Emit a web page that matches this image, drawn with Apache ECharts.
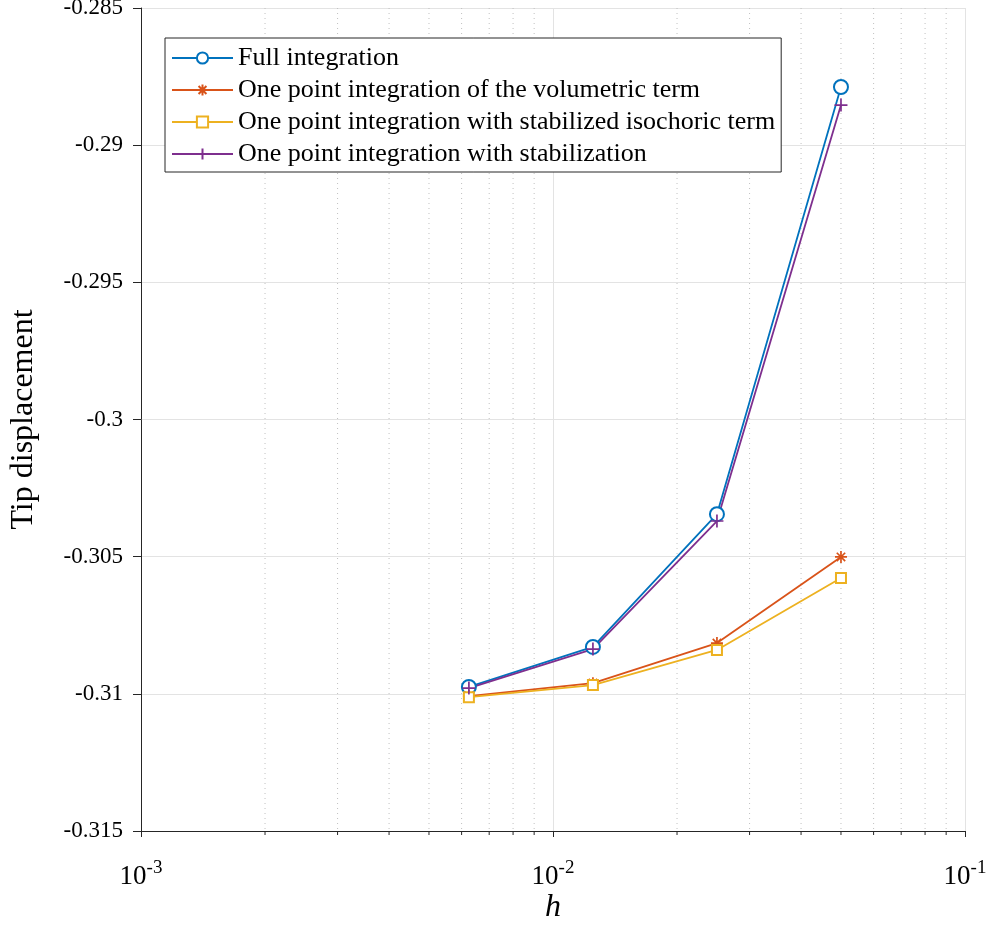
<!DOCTYPE html>
<html>
<head>
<meta charset="utf-8">
<script src="https://cdn.jsdelivr.net/npm/echarts@6/dist/echarts.min.js"></script>
<style>
	html, body { margin: 0; padding: 0; background: #fff; }
	#main { width: 992px; height: 926px; }
</style>
</head>
<body>
<div id="main"></div>
<script>
// mesh size h and tip displacement per method
const hValues = [0.00625, 0.0125, 0.025, 0.05]
const fullIntegration = [-0.30975, -0.30829, -0.30345, -0.28788]
const onePointVolumetric = [-0.31008, -0.30961, -0.30815, -0.30501]
const onePointIsochoric = [-0.31012, -0.30968, -0.3084, -0.30578]
const onePointStabilization = [-0.30979, -0.30837, -0.3037, -0.28854]

const seriesNames = [
	'Full integration',
	'One point integration of the volumetric term',
	'One point integration with stabilized isochoric term',
	'One point integration with stabilization',
]
// minor log ticks (2..9 per decade)
const minorTicksX = [0.002, 0.003, 0.004, 0.005, 0.006, 0.007, 0.008, 0.009,
	0.02, 0.03, 0.04, 0.05, 0.06, 0.07, 0.08, 0.09]

const yMin = -0.315, yMax = -0.285
const font = 'Liberation Serif'
const axisColor = '#262626'

const toPairs = arr => hValues.map((h, i) => [h, arr[i]])

function lineSeries(name, values, color, symbol, size) {
	return {
		name,
		type: 'line',
		data: toPairs(values),
		symbol,
		symbolSize: size,
		showSymbol: true,
		lineStyle: { color, width: 1.8 },
		itemStyle: { color, borderColor: color, borderWidth: 1.7 },
		emphasis: { disabled: true },
		z: 5,
	}
}

const chart = echarts.init(document.getElementById('main'))

const option = {
	animation: false,
	backgroundColor: '#fff',
	textStyle: { fontFamily: font },
	grid: { left: 141, right: 27, top: 8, bottom: 95, containLabel: false, outerBoundsMode: 'none' },
	legend: {
		orient: 'vertical',
		left: 165,
		top: 38,
		data: seriesNames,
		backgroundColor: '#fff',
		borderColor: axisColor,
		borderWidth: 1,
		borderRadius: 0,
		padding: [7, 6, 5, 6],
		itemWidth: 61,
		itemHeight: 14,
		itemGap: 6,
		selectedMode: false,
		textStyle: { fontFamily: font, fontSize: 26, color: '#000', lineHeight: 26 },
	},
	xAxis: {
		type: 'log',
		logBase: 10,
		min: 0.001,
		max: 0.1,
		name: 'h',
		nameLocation: 'middle',
		nameGap: 61,
		nameMoveOverlap: false,
		nameTextStyle: { fontFamily: font, fontSize: 32, fontStyle: 'italic', color: '#000' },
		axisLine: { show: true, onZero: false, lineStyle: { color: axisColor, width: 1 } },
		axisTick: { show: true, inside: false, length: 6, lineStyle: { color: axisColor } },
		axisLabel: {
			margin: 28,
			formatter: v => '{b|10}{s|' + Math.round(Math.log10(v)) + '}',
			rich: {
				b: { fontFamily: font, fontSize: 27, color: '#000' },
				s: { fontFamily: font, fontSize: 19, color: '#000', padding: [0, 0, 17, 0] },
			},
		},
		splitLine: { show: true, lineStyle: { color: '#e3e3e3', width: 1 } },
		minorTick: { show: false },
	},
	yAxis: {
		type: 'value',
		min: yMin,
		max: yMax,
		interval: 0.005,
		name: 'Tip displacement',
		nameLocation: 'middle',
		nameGap: 101,
		nameTextStyle: { fontFamily: font, fontSize: 32, color: '#000' },
		axisLine: { show: true, onZero: false, lineStyle: { color: axisColor, width: 1 } },
		axisTick: { show: true, inside: false, length: 8, lineStyle: { color: axisColor } },
		axisLabel: {
			margin: 18,
			fontFamily: font,
			fontSize: 23,
			color: '#000',
			formatter: v => String(parseFloat(v.toFixed(3))),
		},
		splitLine: { show: true, lineStyle: { color: '#e3e3e3', width: 1 } },
	},
	series: [
		{
			name: 'minor-grid',
			type: 'custom',
			silent: true,
			clip: false,
			z: 1,
			data: minorTicksX.map(v => [v, yMin]),
			renderItem: (params, api) => {
				const x = api.coord([api.value(0), yMin])[0]
				const bottom = api.coord([api.value(0), yMin])[1]
				const top = api.coord([api.value(0), yMax])[1]
				return {
					type: 'group',
					children: [
						{
							type: 'line',
							shape: { x1: x, y1: top, x2: x, y2: bottom },
							style: { stroke: '#c0c0c0', lineWidth: 1, lineDash: [1, 4] },
						},
						{
							type: 'line',
							shape: { x1: x, y1: bottom, x2: x, y2: bottom + 4 },
							style: { stroke: axisColor, lineWidth: 1 },
						},
					],
				}
			},
		},
		lineSeries(seriesNames[0], fullIntegration, '#0072BD', 'emptyCircle', 14),
		lineSeries(seriesNames[1], onePointVolumetric, '#D95319',
			'path://M5,0L5,10M0,5L10,5M1.5,1.5L8.5,8.5M8.5,1.5L1.5,8.5', 12),
		lineSeries(seriesNames[2], onePointIsochoric, '#EDB120', 'emptyRect', 10),
		lineSeries(seriesNames[3], onePointStabilization, '#7E2F8E', 'path://M0,5L10,5M5,0L5,10', 13),
	],
}

chart.setOption(option)
</script>
</body>
</html>
